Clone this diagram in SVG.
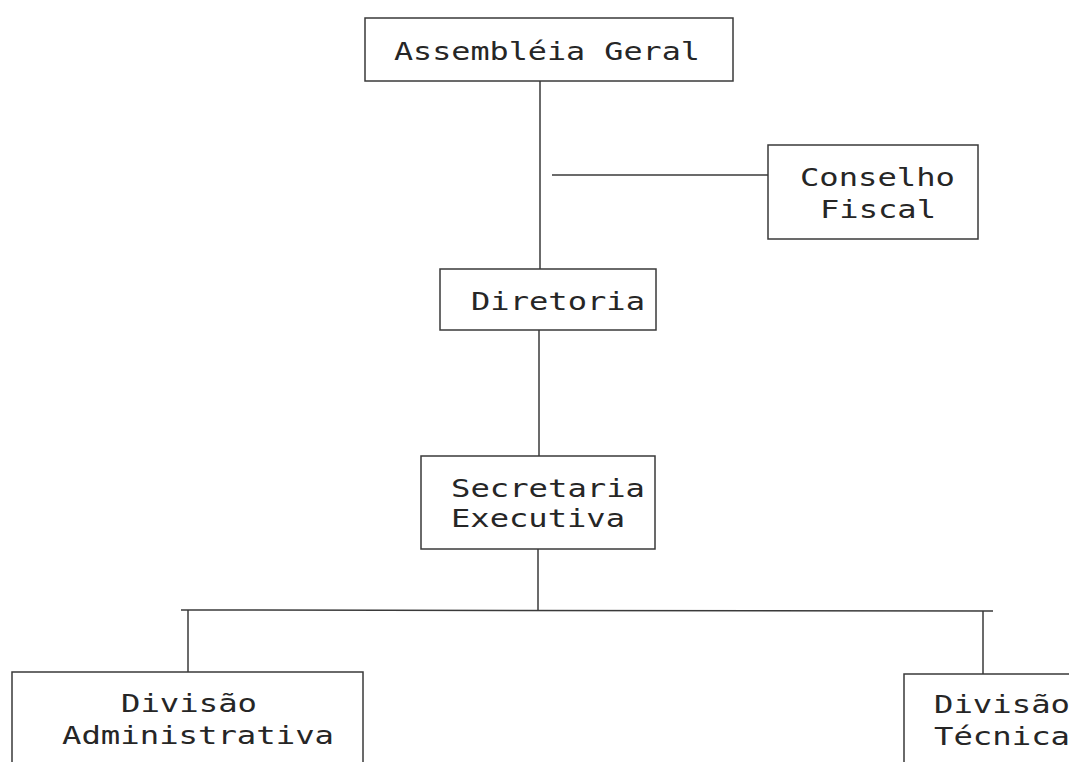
<svg xmlns="http://www.w3.org/2000/svg" width="1069" height="762" viewBox="0 0 1069 762">
<style>
  .box{fill:none;stroke:#3a3a3a;stroke-width:1.5}
  .ln{fill:none;stroke:#3a3a3a;stroke-width:1.5}
  .t{font-family:"DejaVu Sans Mono","Liberation Mono",monospace;font-size:25px;fill:#262626}
</style>
<rect width="1069" height="762" fill="#ffffff"/>
<g id="connectors">
  <line class="ln" x1="540" y1="81" x2="540" y2="269"/>
  <line class="ln" x1="552" y1="175" x2="768" y2="175"/>
  <line class="ln" x1="539" y1="330" x2="539" y2="456"/>
  <line class="ln" x1="538" y1="549" x2="538" y2="610"/>
  <line class="ln" x1="181" y1="610" x2="993" y2="611"/>
  <line class="ln" x1="188" y1="610" x2="188" y2="672"/>
  <line class="ln" x1="983" y1="611" x2="983" y2="674"/>
</g>
<g id="assembleia">
  <rect class="box" x="365" y="18" width="368" height="63"/>
  <text class="t" x="394" y="60" textLength="306" lengthAdjust="spacingAndGlyphs">Assembléia Geral</text>
</g>
<g id="conselho">
  <rect class="box" x="768" y="145" width="210" height="94"/>
  <text class="t" x="800" y="186" textLength="155" lengthAdjust="spacingAndGlyphs">Conselho</text>
  <text class="t" x="820" y="218" textLength="116" lengthAdjust="spacingAndGlyphs">Fiscal</text>
</g>
<g id="diretoria">
  <rect class="box" x="440" y="269" width="216" height="61"/>
  <text class="t" x="471" y="310" textLength="174" lengthAdjust="spacingAndGlyphs">Diretoria</text>
</g>
<g id="secretaria">
  <rect class="box" x="421" y="456" width="234" height="93"/>
  <text class="t" x="451" y="497" textLength="194" lengthAdjust="spacingAndGlyphs">Secretaria</text>
  <text class="t" x="451" y="527" textLength="174" lengthAdjust="spacingAndGlyphs">Executiva</text>
</g>
<g id="div-adm">
  <rect class="box" x="12" y="672" width="351" height="110"/>
  <text class="t" x="121" y="712" textLength="136" lengthAdjust="spacingAndGlyphs">Divisão</text>
  <text class="t" x="62" y="744" textLength="272" lengthAdjust="spacingAndGlyphs">Administrativa</text>
</g>
<g id="div-tec">
  <rect class="box" x="904" y="674" width="200" height="110"/>
  <text class="t" x="934" y="713" textLength="136" lengthAdjust="spacingAndGlyphs">Divisão</text>
  <text class="t" x="934" y="745" textLength="136" lengthAdjust="spacingAndGlyphs">Técnica</text>
</g>
</svg>
